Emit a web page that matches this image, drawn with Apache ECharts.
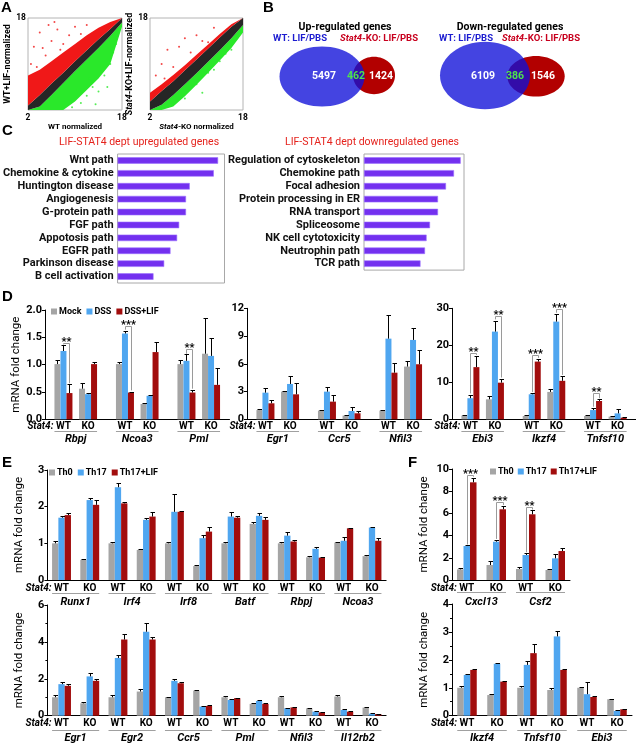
<!DOCTYPE html>
<html><head><meta charset="utf-8">
<script src="https://cdn.jsdelivr.net/npm/echarts@6/dist/echarts.min.js"></script>
<style>html,body{margin:0;padding:0;background:#fff}#c{width:636px;height:745px}</style>
</head><body><div id="c"></div>
<script>
const FONT = '"Liberation Sans Narrow", Roboto, sans-serif';
const COLORS = ['#a5a5a5', '#4fa6f0', '#a20d0d'];

// ---------- Panel A (band boundaries along the diagonal, log2 expression) ----------
const aX = [2, 4, 6, 8, 10, 12, 14, 16, 18];
const a1GreenLow  = [2, 2, 2, 2, 3.5, 5.5, 7.5, 10, 16.5];
const a1BlackLow  = [2, 2.6, 4.6, 6.7, 8.8, 10.8, 12.8, 14.9, 17.2];
const a1BlackHigh = [2.8, 4.6, 6.6, 8.5, 10.5, 12.4, 14.3, 16.1, 18];
const a1RedHigh   = [8, 9, 10.5, 12, 13.5, 15, 16.3, 17.3, 18];
const a1RedDots = [[3,13],[4,15.5],[5,11.5],[6,14],[7,16],[8,13.5],[9,15],[2.5,10],[3.5,9.5],[10,16.5],[11,15.2],[5.5,16.8],[12,16.8],[4.5,12.8],[7.5,12.5],[6.5,17.3]];
const a1GreenDots = [[12,4.5],[13,6],[14,5.2],[15,8],[16,10],[11,3.2],[13.5,3],[15.5,6],[16.5,12],[14.5,9.5],[12.5,7.5],[17,13.5],[10.5,5.5],[9.5,2.5]];
const a2GreenLow  = [2, 2, 2.6, 4.4, 6.4, 8.5, 10.6, 12.8, 15.5];
const a2BlackLow  = [2, 2.9, 4.6, 6.5, 8.4, 10.4, 12.4, 14.5, 16.8];
const a2BlackHigh = [3.5, 5.3, 7.0, 8.9, 10.8, 12.7, 14.6, 16.5, 18];
const a2RedHigh   = [5, 6.5, 8.1, 9.8, 11.6, 13.4, 15.2, 16.9, 18];
const a2RedDots = [[3,8],[4,10],[5,12.5],[6,9.5],[7,13],[8,14.5],[9,12],[10,15],[11,14],[4.5,7.5],[13,16.3],[12,13.8]];
const a2GreenDots = [[8,4],[10,6.5],[12,8.5],[14,10.5],[16,12.5],[11,5],[13,9],[15,11.8],[17,14.5]];

// ---------- Panel B ----------
const vennUp = [5497, 462, 1424];
const vennDown = [6109, 386, 1546];

// ---------- Panel C ----------
const cUpTerms = ['Wnt path','Chemokine & cytokine','Huntington disease','Angiogenesis','G-protein path','FGF path','Appotosis path','EGFR path','Parkinson disease','B cell activation'];
const cUpValues = [94, 90, 67.5, 64, 64, 57.6, 55.7, 49.5, 43.6, 33.6];
const cDownTerms = ['Regulation of cytoskeleton','Chemokine path','Focal adhesion','Protein processing in ER','RNA transport','Spliceosome','NK cell cytotoxicity','Neutrophin path','TCR path'];
const cDownValues = [96.7, 90, 82, 74, 74, 66, 62.6, 61, 56.5];

// ---------- Panel D (order: gene1 WT, gene1 KO, gene2 WT, ...) ----------
const dSeries = ['Mock', 'DSS', 'DSS+LIF'];
const dGenes1 = ['Rbpj', 'Ncoa3', 'Pml'];
const dMock1 = [1.01, 0.56, 1.01, 0.28, 1.01, 1.2];
const dMock1Err = [0.07, 0.10, 0.03, 0.01, 0.07, 0.65];
const dDss1 = [1.25, 0.46, 1.57, 0.43, 1.07, 1.16];
const dDss1Err = [0.11, 0.02, 0.05, 0.015, 0.12, 0.33];
const dLif1 = [0.48, 1.01, 0.49, 1.23, 0.49, 0.63];
const dLif1Err = [0.16, 0.03, 0.01, 0.19, 0.05, 0.30];
const dSig1 = [[0, 0, 1.40, 1.37, 0.66], [1, 0, 1.70, 1.64, 0.53], [2, 0, 1.28, 1.20, 0.56]];
const dSig1Text = ['**', '***', '**'];

const dGenes2 = ['Egr1', 'Ccr5', 'Nfil3'];
const dMock2 = [1.0, 2.99, 0.94, 0.4, 0.94, 5.7];
const dMock2Err = [0.08, 0.05, 0.06, 0.07, 0.06, 0.55];
const dDss2 = [2.88, 3.82, 2.99, 0.9, 8.72, 8.58];
const dDss2Err = [0.45, 0.9, 0.55, 0.45, 2.6, 1.3];
const dLif2 = [1.73, 2.7, 1.91, 0.65, 5.04, 5.95];
const dLif2Err = [0.35, 1.25, 0.7, 0.25, 1.1, 1.55];

const dGenes3 = ['Ebi3', 'Ikzf4', 'Tnfsf10'];
const dMock3 = [1.0, 5.4, 0.9, 7.4, 0.9, 0.72];
const dMock3Err = [0.17, 0.9, 0.18, 0.7, 0.27, 0.28];
const dDss3 = [5.7, 23.7, 6.76, 26.4, 2.5, 1.6];
const dDss3Err = [0.9, 3.0, 0.25, 2.1, 0.65, 1.1];
const dLif3 = [14.1, 9.9, 15.6, 10.4, 4.95, 0.45];
const dLif3Err = [3.0, 1.0, 0.7, 1.3, 0.45, 0.18];
const dSig3 = [[0, 0, 18.0, 7.0, 17.4], [0, 1, 27.9, 27.0, 11.3], [1, 0, 17.4, 7.4, 16.6], [1, 1, 29.8, 28.8, 12.0], [2, 0, 7.0, 3.4, 5.7]];
const dSig3Text = ['**', '**', '***', '***', '**'];

// ---------- Panel E ----------
const eSeries = ['Th0', 'Th17', 'Th17+LIF'];
const eGenes1 = ['Runx1', 'Irf4', 'Irf8', 'Batf', 'Rbpj', 'Ncoa3'];
const eTh0a = [1.0, 0.55, 1.0, 0.82, 1.0, 0.38, 1.0, 1.53, 1.0, 0.62, 1.02, 0.65];
const eTh0aErr = [0.06, 0.01, 0.05, 0.02, 0.04, 0.02, 0.03, 0.06, 0.03, 0.03, 0.03, 0.03];
const eTh17a = [1.7, 2.18, 2.53, 1.64, 1.86, 1.14, 1.73, 1.75, 1.21, 0.85, 1.07, 1.43];
const eTh17aErr = [0.05, 0.05, 0.12, 0.06, 0.49, 0.09, 0.13, 0.09, 0.09, 0.06, 0.11, 0.02];
const eLifa = [1.77, 2.05, 2.09, 1.73, 1.86, 1.32, 1.7, 1.64, 1.05, 0.61, 1.41, 1.07];
const eLifaErr = [0.06, 0.13, 0.03, 0.13, 0.03, 0.13, 0.05, 0.09, 0.04, 0.03, 0.02, 0.07];

const eGenes2 = ['Egr1', 'Egr2', 'Ccr5', 'Pml', 'Nfil3', 'Il12rb2'];
const eTh0b = [1.0, 0.67, 1.0, 1.31, 1.0, 1.36, 1.0, 0.64, 1.0, 0.4, 1.04, 0.44];
const eTh0bErr = [0.1, 0.07, 0.1, 0.12, 0.04, 0.05, 0.06, 0.04, 0.06, 0.03, 0.1, 0.04];
const eTh17b = [1.71, 2.13, 3.13, 4.55, 1.89, 0.49, 0.85, 0.8, 0.4, 0.22, 0.31, 0.11];
const eTh17bErr = [0.12, 0.18, 0.15, 0.5, 0.1, 0.03, 0.03, 0.03, 0.03, 0.02, 0.04, 0.02];
const eLifb = [1.62, 1.89, 4.13, 4.13, 1.76, 0.53, 0.95, 0.64, 0.45, 0.18, 0.22, 0.09];
const eLifbErr = [0.1, 0.12, 0.28, 0.16, 0.05, 0.03, 0.03, 0.03, 0.03, 0.02, 0.03, 0.02];

// ---------- Panel F ----------
const fGenes1 = ['Cxcl13', 'Csf2'];
const fTh0a = [0.96, 1.35, 0.99, 0.9];
const fTh0aErr = [0.15, 0.36, 0.21, 0.06];
const fTh17a = [3.06, 3.45, 2.25, 1.95];
const fTh17aErr = [0.06, 0.12, 0.15, 0.36];
const fLifa = [8.8, 6.37, 5.92, 2.61];
const fLifaErr = [0.42, 0.33, 0.38, 0.24];
const fSig1 = [[0, 0, 9.5, 3.2, 9.3], [0, 1, 7.05, 3.7, 6.75], [1, 0, 6.6, 2.5, 6.35]];
const fSig1Text = ['***', '***', '**'];

const fGenes2 = ['Ikzf4', 'Tnfsf10', 'Ebi3'];
const fTh0b = [1.0, 0.74, 1.0, 0.92, 1.0, 0.59];
const fTh0bErr = [0.05, 0.04, 0.08, 0.06, 0.04, 0.02];
const fTh17b = [1.46, 1.86, 1.82, 2.84, 0.77, 0.17];
const fTh17bErr = [0.05, 0.04, 0.14, 0.18, 0.42, 0.02];
const fLifb = [1.64, 1.22, 2.24, 1.64, 0.67, 0.23];
const fLifbErr = [0.04, 0.03, 0.33, 0.04, 0.04, 0.02];

// ================= building =================
const grids = [], xAxes = [], yAxes = [], series = [], graphics = [], legends = [];

function txt(x, y, text, font, fill, align, rich) {
  const st = {text: text, font: font, fill: fill || '#000', textAlign: align || 'center', textVerticalAlign: 'middle', align: align || 'center', verticalAlign: 'middle'};
  if (rich) st.rich = rich;
  graphics.push({type: 'text', x: x, y: y, z: 100, style: st, silent: true});
}

// ---- Panel A ----
function band(xi, yi, lower, upper, color) {
  return {type: 'custom', xAxisIndex: xi, yAxisIndex: yi, clip: true, silent: true, animation: false,
    data: [[aX[0], lower[0]]],
    renderItem: function (p, api) {
      const pts = aX.map((x, i) => api.coord([x, lower[i]]));
      for (let i = aX.length - 1; i >= 0; i--) pts.push(api.coord([aX[i], upper[i]]));
      return {type: 'polygon', shape: {points: pts}, style: {fill: color}};
    }};
}
function scatterPanel(left, width, xName, yName, lo, bl, bh, rh, redDots, greenDots) {
  const gi = grids.length;
  grids.push({left: left, top: 18, width: width, height: 92, show: true, borderColor: '#b4b4b4', borderWidth: 1, backgroundColor: '#fff'});
  const xi = xAxes.length, yi = yAxes.length;
  const nameStyle = {fontSize: 8, fontWeight: 'bold', color: '#000', rich: {i: {fontStyle: 'italic', fontSize: 8, fontWeight: 'bold', color: '#000'}}};
  const yNameStyle = {fontSize: 9, fontWeight: 'bold', color: '#000', rich: {i: {fontStyle: 'italic', fontSize: 9, fontWeight: 'bold', color: '#000'}}};
  xAxes.push({type: 'value', gridIndex: gi, min: 2, max: 18, interval: 16, axisLine: {show: false}, axisTick: {show: false}, splitLine: {show: false},
    axisLabel: {fontSize: 8.5, fontWeight: 'bold', color: '#000', margin: 3},
    name: xName, nameLocation: 'middle', nameGap: 4, nameTextStyle: Object.assign({verticalAlign: 'top'}, nameStyle)});
  yAxes.push({type: 'value', gridIndex: gi, min: 2, max: 18, interval: 16, axisLine: {show: false}, axisTick: {show: false}, splitLine: {show: false},
    axisLabel: {showMinLabel: false, fontSize: 8.5, fontWeight: 'bold', color: '#000', margin: 2},
    name: yName, nameLocation: 'middle', nameGap: 3, nameRotate: 90, nameTextStyle: yNameStyle});
  series.push(band(xi, yi, lo, bl, '#2ae82a'), band(xi, yi, bl, bh, '#262626'), band(xi, yi, bh, rh, '#f01818'));
  series.push({type: 'scatter', xAxisIndex: xi, yAxisIndex: yi, data: redDots, symbolSize: 2, itemStyle: {color: '#f01818'}, silent: true, animation: false});
  series.push({type: 'scatter', xAxisIndex: xi, yAxisIndex: yi, data: greenDots, symbolSize: 2, itemStyle: {color: '#2ae82a'}, silent: true, animation: false});
}
scatterPanel(28, 94, 'WT normalized', 'WT+LIF-normalized', a1GreenLow, a1BlackLow, a1BlackHigh, a1RedHigh, a1RedDots, a1GreenDots);
scatterPanel(150, 93, '{i|Stat4}-KO normalized', '{i|Stat4}-KO+LIF-normalized', a2GreenLow, a2BlackLow, a2BlackHigh, a2RedHigh, a2RedDots, a2GreenDots);

// ---- Panel B ----
function venn(title, titleX, wtX, koX, blue, red, nums, numX) {
  graphics.push({type: 'ellipse', shape: {cx: red[0], cy: red[1], rx: red[2], ry: red[3]}, style: {fill: '#b20000'}, silent: true, z: 50});
  graphics.push({type: 'ellipse', shape: {cx: blue[0], cy: blue[1], rx: blue[2], ry: blue[3]}, style: {fill: '#1010d8', opacity: 0.78}, silent: true, z: 51});
  txt(titleX, 27, title, 'bold 10.5px ' + FONT, '#000');
  txt(wtX, 38.5, 'WT: LIF/PBS', 'bold 9.5px ' + FONT, '#1c1cd0');
  txt(koX, 38.5, '{i|Stat4}-KO: LIF/PBS', 'bold 9.5px ' + FONT, '#c8001e', 'center', {i: {font: 'italic bold 9.5px ' + FONT, fill: '#c8001e'}});
  txt(numX[0], 76.5, String(nums[0]), 'bold 10.5px ' + FONT, '#fff');
  txt(numX[1], 76, String(nums[1]), 'bold 10.5px ' + FONT, '#4ee04e');
  txt(numX[2], 76.5, String(nums[2]), 'bold 10.5px ' + FONT, '#fff');
}
venn('Up-regulated genes', 345, 300, 379, [322, 76.5, 42.5, 30], [374, 75.5, 21, 18.7], vennUp, [324, 356, 381]);
venn('Down-regulated genes', 510, 466, 541, [485, 75.5, 45, 33.8], [536, 76.3, 28.7, 20.3], vennDown, [483, 515, 543]);

// ---- Panel C ----
function termPanel(left, top, width, terms, vals) {
  const gi = grids.length;
  grids.push({left: left, top: top, width: width, height: terms.length * 12.9, show: true, borderColor: '#a8a8a8', borderWidth: 1});
  const xi = xAxes.length, yi = yAxes.length;
  xAxes.push({type: 'value', gridIndex: gi, min: 0, max: 100, show: false});
  yAxes.push({type: 'category', gridIndex: gi, data: terms, inverse: true, axisLine: {show: false}, axisTick: {show: false},
    axisLabel: {fontSize: 11, fontWeight: 'bold', color: '#111', margin: 4, interval: 0}});
  series.push({type: 'bar', xAxisIndex: xi, yAxisIndex: yi, data: vals, barWidth: 6.5,
    itemStyle: {color: '#7330ef', borderColor: '#9b70ff', borderWidth: 0.6}, silent: true, animation: false});
}
termPanel(113.5, 154, 111, cUpTerms, cUpValues);
termPanel(364, 154, 100, cDownTerms, cDownValues);
txt(139, 142, 'LIF-STAT4 dept upregulated genes', '10.5px ' + FONT, '#e5231d');
txt(372, 142, 'LIF-STAT4 dept downregulated genes', '10.5px ' + FONT, '#e5231d');

// ---- bar panels (D, E, F) ----
function barPanel(o) {
  const gi = grids.length;
  grids.push({left: o.left, top: o.top, width: o.width, height: o.height});
  const xi = xAxes.length, yi = yAxes.length;
  const labels = new Array(o.nCat).fill('');
  o.pos.forEach(p => { labels[p[0]] = 'WT'; labels[p[1]] = 'KO'; });
  xAxes.push({type: 'category', gridIndex: gi, data: labels.map((l, i) => String(i)), boundaryGap: true,
    axisLine: {lineStyle: {color: '#000', width: 1}}, axisTick: {show: false},
    axisLabel: {interval: 0, margin: o.labMargin, formatter: (v, i) => labels[i], color: '#000', fontWeight: 'bold', fontSize: 10}});
  const ya = {type: 'value', gridIndex: gi, min: 0, max: o.yMax, interval: o.interval, splitLine: {show: false},
    axisLine: {show: true, lineStyle: {color: '#000', width: 1}}, axisTick: {show: true, length: 3, lineStyle: {color: '#000'}},
    axisLabel: {fontSize: 11, fontWeight: 'bold', color: '#000', margin: 3, formatter: o.fmt || (v => String(v))}};
  if (o.minor) { ya.minorTick = {show: true, splitNumber: 2, length: 2, lineStyle: {color: '#000'}}; }
  if (o.yName) Object.assign(ya, {name: 'mRNA fold change', nameLocation: 'middle', nameGap: 22, nameRotate: 90,
    nameTextStyle: {fontSize: 11.5, color: '#000'}});
  yAxes.push(ya);
  o.vals.forEach((vals, s) => {
    const d = new Array(o.nCat).fill(null);
    o.pos.forEach((p, g) => { d[p[0]] = vals[2 * g]; d[p[1]] = vals[2 * g + 1]; });
    series.push({type: 'bar', name: o.names[s], xAxisIndex: xi, yAxisIndex: yi, data: d, barWidth: o.bw, barGap: '0%',
      itemStyle: {color: COLORS[s]}, silent: true, animation: false});
  });
  const bw = o.bw;
  const errData = [];
  o.pos.forEach((p, g) => { [0, 1].forEach(k => { for (let s = 0; s < 3; s++) errData.push([p[k], o.vals[s][2 * g + k], o.errs[s][2 * g + k], s - 1]); }); });
  series.push({type: 'custom', xAxisIndex: xi, yAxisIndex: yi, data: errData, encode: {x: 0, y: 1}, silent: true, animation: false, z: 3,
    renderItem: function (params, api) {
      const c = api.value(0), v = api.value(1), e = api.value(2), off = api.value(3);
      const a = api.coord([c, v]), b = api.coord([c, v + e]);
      const x = Math.round(a[0] + off * bw) + 0.5;
      const yb = Math.round(b[1]) + 0.5;
      return {type: 'group', children: [
        {type: 'line', shape: {x1: x, y1: a[1], x2: x, y2: yb}, style: {stroke: '#000', lineWidth: 1}},
        {type: 'line', shape: {x1: x - 2, y1: yb, x2: x + 2.5, y2: yb}, style: {stroke: '#000', lineWidth: 1}}]};
    }});
  if (o.sig) {
    series.push({type: 'custom', xAxisIndex: xi, yAxisIndex: yi, silent: true, animation: false, z: 4,
      data: o.sig.map(s => [o.pos[s[0]][s[1]], s[2], s[3], s[4]]), encode: {x: 0, y: 1},
      renderItem: function (params, api) {
        const c = api.value(0);
        const lv = api.coord([c, api.value(1)]), l = api.coord([c, api.value(2)]), r = api.coord([c, api.value(3)]);
        const xl = Math.round(lv[0]) + 0.5, xr = Math.round(lv[0] + bw) + 0.5, yl = Math.round(lv[1]) + 0.5;
        return {type: 'group', children: [
          {type: 'polyline', shape: {points: [[xl, l[1]], [xl, yl], [xr, yl], [xr, r[1]]]}, style: {stroke: '#9a9a9a', lineWidth: 1, fill: null}},
          {type: 'text', style: {text: o.sigText[params.dataIndex], x: (xl + xr) / 2, y: yl + 4, font: 'bold 11px ' + FONT, fill: '#000',
            align: 'center', verticalAlign: 'bottom', textAlign: 'center', textVerticalAlign: 'bottom'}}]};
      }});
  }
  series.push({type: 'custom', xAxisIndex: xi, yAxisIndex: yi, silent: true, animation: false,
    data: o.pos.map(p => [p[0], p[1]]), encode: {x: 0, y: 1},
    renderItem: function (params, api) {
      const a = api.coord([api.value(0), 0]), b = api.coord([api.value(1), 0]);
      const y0 = a[1];
      const x1 = a[0] - 1.5 * bw, x2 = b[0] + 1.5 * bw;
      const yl = Math.round(y0 + o.lineOff) + 0.5;
      const ch = [
        {type: 'line', shape: {x1: x1, y1: yl, x2: x2, y2: yl}, style: {stroke: '#a0a0a0', lineWidth: 1}},
        {type: 'text', style: {text: o.genes[params.dataIndex], x: (x1 + x2) / 2, y: y0 + o.geneOff, font: 'italic bold 11px ' + FONT, fill: '#000',
          align: 'center', verticalAlign: 'middle', textAlign: 'center', textVerticalAlign: 'middle'}}];
      if (params.dataIndex === 0) {
        ch.push({type: 'text', style: {text: 'Stat4:', x: a[0] - 10, y: y0 + o.labMargin + 5, font: 'italic bold 10px ' + FONT, fill: '#000',
          align: 'right', verticalAlign: 'middle', textAlign: 'right', textVerticalAlign: 'middle'}});
      }
      return {type: 'group', children: ch};
    }});
}

const dPos = [[1, 3], [6, 8], [11, 13]];
barPanel({left: 45, top: 310, width: 184.5, height: 109.3, nCat: 15, pos: dPos, yMax: 2, interval: 0.5, fmt: v => v.toFixed(1), yName: true,
  names: dSeries, vals: [dMock1, dDss1, dLif1], errs: [dMock1Err, dDss1Err, dLif1Err], genes: dGenes1, bw: 6, sig: dSig1, sigText: dSig1Text,
  labMargin: 2, lineOff: 12, geneOff: 20});
barPanel({left: 247, top: 308.3, width: 184.5, height: 111, nCat: 15, pos: dPos, yMax: 12, interval: 3,
  names: dSeries, vals: [dMock2, dDss2, dLif2], errs: [dMock2Err, dDss2Err, dLif2Err], genes: dGenes2, bw: 6,
  labMargin: 2, lineOff: 12, geneOff: 20});
barPanel({left: 452, top: 308.3, width: 184, height: 111, nCat: 15, pos: dPos, yMax: 30, interval: 10,
  names: dSeries, vals: [dMock3, dDss3, dLif3], errs: [dMock3Err, dDss3Err, dLif3Err], genes: dGenes3, bw: 6, sig: dSig3, sigText: dSig3Text,
  labMargin: 2, lineOff: 12, geneOff: 20});

const ePos = [[0, 1], [2, 3], [4, 5], [6, 7], [8, 9], [10, 11]];
barPanel({left: 47.4, top: 470, width: 338.7, height: 110, nCat: 12, pos: ePos, yMax: 3, interval: 1, yName: true,
  names: eSeries, vals: [eTh0a, eTh17a, eLifa], errs: [eTh0aErr, eTh17aErr, eLifaErr], genes: eGenes1, bw: 6.3,
  labMargin: 3, lineOff: 13, geneOff: 22});
barPanel({left: 47.4, top: 605, width: 338.7, height: 110.7, nCat: 12, pos: ePos, yMax: 6, interval: 2, yName: true, minor: true,
  names: eSeries, vals: [eTh0b, eTh17b, eLifb], errs: [eTh0bErr, eTh17bErr, eLifbErr], genes: eGenes2, bw: 6.3,
  labMargin: 3, lineOff: 14, geneOff: 23});

barPanel({left: 452, top: 469, width: 118, height: 111, nCat: 4, pos: [[0, 1], [2, 3]], yMax: 10, interval: 2, yName: true,
  names: eSeries, vals: [fTh0a, fTh17a, fLifa], errs: [fTh0aErr, fTh17aErr, fLifaErr], genes: fGenes1, bw: 6.5, sig: fSig1, sigText: fSig1Text,
  labMargin: 3, lineOff: 12, geneOff: 22});
barPanel({left: 452, top: 604, width: 180, height: 111.7, nCat: 6, pos: [[0, 1], [2, 3], [4, 5]], yMax: 4, interval: 1, yName: true, minor: true,
  names: eSeries, vals: [fTh0b, fTh17b, fLifb], errs: [fTh0bErr, fTh17bErr, fLifbErr], genes: fGenes2, bw: 6.5,
  labMargin: 3, lineOff: 14, geneOff: 23});

// legends
const legStyle = {fontSize: 9, fontWeight: 'bold', color: '#000', padding: [0, 0, 0, -3]};
legends.push({data: dSeries, left: 51, top: 307, icon: 'rect', itemWidth: 6, itemHeight: 6, itemGap: 5, padding: 0, selectedMode: false, textStyle: legStyle});
legends.push({data: eSeries, left: 49, top: 468, icon: 'rect', itemWidth: 6, itemHeight: 6, itemGap: 5, padding: 0, selectedMode: false, textStyle: legStyle});
legends.push({data: eSeries, left: 490, top: 467, icon: 'rect', itemWidth: 6, itemHeight: 6, itemGap: 4, padding: 0, selectedMode: false, textStyle: legStyle});

// panel letters
const letterFont = 'bold 15px "Liberation Sans", Arial, sans-serif';
txt(1, 8, 'A', letterFont, '#000', 'left');
txt(263, 8, 'B', letterFont, '#000', 'left');
txt(2, 131, 'C', letterFont, '#000', 'left');
txt(2, 297, 'D', letterFont, '#000', 'left');
txt(2, 463, 'E', letterFont, '#000', 'left');
txt(408, 463, 'F', letterFont, '#000', 'left');

const chart = echarts.init(document.getElementById('c'), null, {renderer: 'canvas', width: 636, height: 745});
chart.setOption({
  animation: false,
  backgroundColor: '#fff',
  textStyle: {fontFamily: FONT},
  grid: grids, xAxis: xAxes, yAxis: yAxes, series: series, graphic: graphics, legend: legends
});
</script></body></html>
